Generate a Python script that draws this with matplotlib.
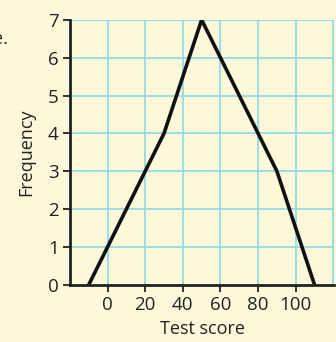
import matplotlib
matplotlib.use("Agg")
import matplotlib.pyplot as plt

# frequency polygon: class midpoints and frequencies
scores = [-10, 10, 30, 50, 70, 90, 110]
freq = [0, 2, 4, 7, 5, 3, 0]
xticks = [0, 20, 40, 60, 80, 100]
yticks = [0, 1, 2, 3, 4, 5, 6, 7]

plt.rcParams['font.family'] = ['Open Sans', 'DejaVu Sans']
bg = '#fdf8da'
grid = '#92d9e4'

fig = plt.figure(figsize=(3.36, 3.42), dpi=100, facecolor=bg)
ax = fig.add_axes([0.208, 0.167, 0.787, 0.775], facecolor=bg)

for x in range(0, 121, 20):
    ax.axvline(x, color=grid, lw=1.3, zorder=1)
for y in yticks[1:]:
    ax.axhline(y, color=grid, lw=1.3, zorder=1)

ax.plot(scores, freq, color='#111111', lw=2.6, zorder=3, solid_joinstyle='miter')

ax.set_xlim(-20, 120.5)
ax.set_ylim(0, 7)
ax.set_xticks(xticks)
ax.set_yticks(yticks)
ax.tick_params(labelsize=13.5, length=5, width=1.3, colors='#222222', pad=3)
for s in ['top', 'right']:
    ax.spines[s].set_visible(False)
for s in ['left', 'bottom']:
    ax.spines[s].set_linewidth(2)
    ax.spines[s].set_color('#222222')
    ax.spines[s].set_zorder(4)

ax.set_xlabel('Test score', fontsize=13, color='#222222', labelpad=4)
ax.set_ylabel('Frequency', fontsize=13, color='#222222', labelpad=9)

# question label, mostly cut off at the left edge as in the source
fig.text(-0.022, 0.87, 'e.', fontsize=13, color='#222222')

fig.savefig('out.png', dpi=100, facecolor=bg)
